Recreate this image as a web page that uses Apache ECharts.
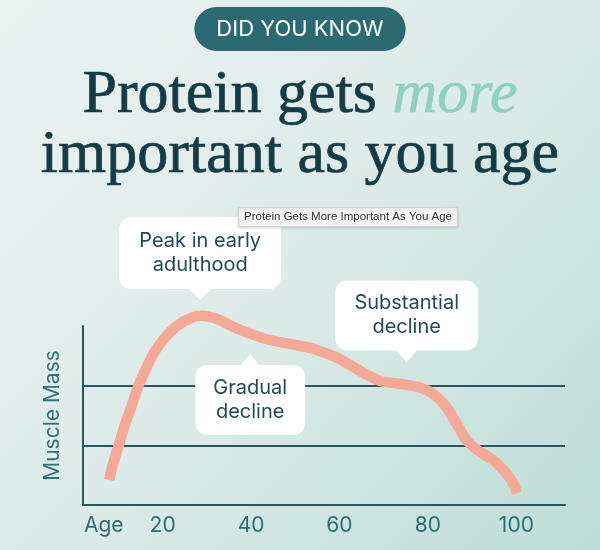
<!DOCTYPE html>
<html><head><meta charset="utf-8">
<script src="https://cdn.jsdelivr.net/npm/echarts@6/dist/echarts.min.js"></script>
<style>html,body{margin:0;padding:0;}#c{width:600px;height:550px;}</style>
</head><body><div id="c"></div>
<script>
// ---- data ----
const ages   = [7.9, 8.6, 10.1, 11.3, 12.9, 14.5, 16.4, 18.3, 20.5, 23.2, 26.6, 28.8, 32.6, 36.4, 40.2, 44, 48.8, 54, 59.4, 64.6, 69.2, 73.7, 78.2, 81.2, 84.2, 86.5, 88.8, 91.8, 94.8, 97.4, 99.3, 100.2];
const muscle = [0.42, 0.64, 1.0, 1.31, 1.64, 1.99, 2.31, 2.58, 2.8, 3.0, 3.14, 3.17, 3.11, 2.97, 2.86, 2.77, 2.7, 2.62, 2.47, 2.25, 2.08, 2.03, 1.97, 1.86, 1.64, 1.36, 1.08, 0.89, 0.75, 0.56, 0.36, 0.2];
const xTickValues = [6.7, 20, 40, 60, 80, 100];
const xTickLabels = ['Age', '20', '40', '60', '80', '100'];
const calloutTexts  = ['Peak in early\nadulthood', 'Gradual\ndecline', 'Substantial\ndecline'];
const calloutAges   = [28.5, 39.8, 75.2];
const calloutValues = [3, 2.53, 2.39];
const badgeText = 'DID YOU KNOW';
const titleLine1 = ['Protein gets ', 'more'];
const titleLine2 = 'important as you age';
const hoverText = 'Protein Gets More Important As You Age';
const yName = 'Muscle Mass';

// ---- chart ----
const chart = echarts.init(document.getElementById('c'));
const textCol = '#1f4c53';
const axisCol = '#29565c';
const labelBase = {
  show: true, formatter: '{b}', backgroundColor: '#ffffff', borderRadius: 12,
  color: textCol, fontSize: 20, lineHeight: 24, fontFamily: 'Inter', align: 'center'
};
const calloutStyles = [
  { symbol: 'path://M0,0L24,0L12,12Z', symbolSize: [24, 12], symbolOffset: [0, -32],
    label: Object.assign({}, labelBase, { position: 'top', distance: -1, width: 134, padding: [12, 14] }) },
  { symbol: 'path://M0,12L10,0L20,12Z', symbolSize: [20, 12], symbolOffset: [0, 6],
    label: Object.assign({}, labelBase, { position: 'bottom', distance: -1, width: 90, padding: [11, 10] }) },
  { symbol: 'path://M0,0L22,0L11,13Z', symbolSize: [22, 13], symbolOffset: [0, -6.5],
    label: Object.assign({}, labelBase, { position: 'top', distance: -1, width: 119, padding: [11, 12] }) }
];
const serif = { fontFamily: 'Liberation Serif', fontSize: 62, fontWeight: 'normal', lineHeight: 62, textBorderWidth: 0.7 };

chart.setOption({
  animation: false,
  backgroundColor: new echarts.graphic.LinearGradient(0, 0, 1, 1, [
    { offset: 0, color: '#ebf3f1' }, { offset: 0.5, color: '#dcebe8' }, { offset: 1, color: '#bcddd6' }
  ]),
  title: [
    { text: badgeText, left: 'center', top: 7, backgroundColor: '#2b6a72', borderRadius: 22, padding: [10, 22],
      textStyle: { color: '#ffffff', fontSize: 22, fontWeight: 'normal', fontFamily: 'Inter', lineHeight: 24 } },
    { text: '{a|' + titleLine1[0] + '}{b|' + titleLine1[1] + '}', left: 'center', top: 60,
      textStyle: { fontWeight: 'normal', rich: {
        a: Object.assign({ color: '#143c45', textBorderColor: '#143c45' }, serif),
        b: Object.assign({ color: '#8fd1bf', textBorderColor: '#8fd1bf', fontStyle: 'italic' }, serif) } } },
    { text: '{a|' + titleLine2 + '}', left: 'center', top: 120,
      textStyle: { fontWeight: 'normal', rich: { a: Object.assign({ color: '#143c45', textBorderColor: '#143c45' }, serif) } } },
    { text: hoverText, left: 238, top: 207, backgroundColor: '#f5f5f5', borderColor: '#d2d2d2', borderWidth: 1,
      shadowBlur: 3, shadowColor: 'rgba(0,0,0,0.15)', shadowOffsetY: 1,
      padding: [4, 6], textStyle: { fontFamily: 'Liberation Sans', fontSize: 11.5, color: '#333333', fontWeight: 'normal', lineHeight: 12 } }
  ],
  grid: { left: 83, right: 35, top: 326, bottom: 45, containLabel: false },
  xAxis: {
    type: 'value', min: 2, max: 111,
    axisLine: { show: true, lineStyle: { color: axisCol, width: 2 } },
    axisTick: { show: false }, splitLine: { show: false },
    axisLabel: { customValues: xTickValues, formatter: function (v) {
        const i = xTickValues.indexOf(v); return i >= 0 ? xTickLabels[i] : (v < 10 ? 'Age' : String(v)); },
      color: '#2d6e73', fontSize: 21, fontFamily: 'Inter', margin: 10 }
  },
  yAxis: {
    type: 'value', min: 0, max: 3, interval: 1,
    name: yName, nameLocation: 'middle', nameGap: 20,
    nameTextStyle: { color: '#2e7276', fontSize: 21, fontFamily: 'Inter' },
    axisLine: { show: true, lineStyle: { color: axisCol, width: 2 } },
    axisTick: { show: false }, axisLabel: { show: false },
    splitLine: { show: true, showMinLine: false, showMaxLine: false, lineStyle: { color: axisCol, width: 2 } }
  },
  series: [{
    type: 'line', smooth: 0.25, showSymbol: false, clip: false, silent: true,
    data: ages.map((a, i) => [a, muscle[i]]),
    lineStyle: { color: '#f5a896', width: 10.5 },
    emphasis: { disabled: true },
    markPoint: {
      silent: true, animation: false,
      itemStyle: { color: '#ffffff' },
      data: calloutTexts.map((t, i) => Object.assign({ name: t, coord: [calloutAges[i], calloutValues[i]], itemStyle: { color: '#ffffff' } }, calloutStyles[i]))
    }
  }]
});
</script>
</body></html>
